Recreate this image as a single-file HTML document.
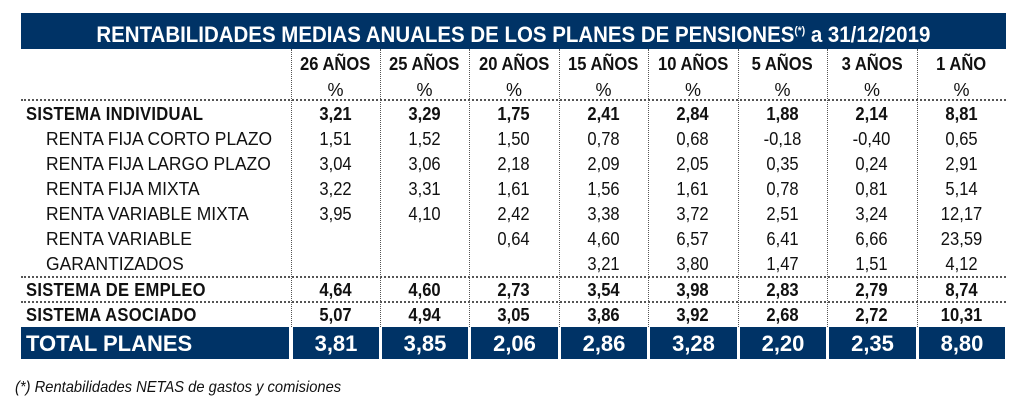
<!DOCTYPE html>
<html><head><meta charset="utf-8"><style>
body{margin:0;width:1022px;height:416px;background:#fff;position:relative;overflow:hidden;font-family:"Liberation Sans Narrow","Liberation Sans",sans-serif;color:#111}
.a{position:absolute;white-space:nowrap}
.t{position:absolute;left:21px;top:13px;width:985px;height:36px;background:#003366;color:#fff;font:bold 22px "Liberation Sans",sans-serif;text-align:center;line-height:37px}
.t span{display:inline-block;transform:scaleX(0.93)}
.c{position:absolute;width:89px;text-align:center;font-size:18px;line-height:20px}
.c span{display:inline-block;transform:scaleX(0.92)}
.l{position:absolute;font-size:18px;line-height:20px;transform-origin:left;transform:scaleX(0.97)}
.b{font-weight:bold}
.vl{position:absolute;top:49px;height:278px;border-left:1px dotted #555}
.hl{position:absolute;left:21px;width:985px;border-top:2px dotted #555}
.tot{position:absolute;top:327px;height:32px;background:#003366;color:#fff;font-weight:bold;font-size:22px;line-height:33px;text-align:center}
</style></head><body>
<div class="t"><span>RENTABILIDADES MEDIAS ANUALES DE LOS PLANES DE PENSIONES<sup style="font-size:11px;vertical-align:8px">(*)</sup> a 31/12/2019</span></div>
<div class="vl" style="left:291px"></div><div class="vl" style="left:380px"></div><div class="vl" style="left:469px"></div><div class="vl" style="left:559px"></div><div class="vl" style="left:648px"></div><div class="vl" style="left:738px"></div><div class="vl" style="left:827px"></div><div class="vl" style="left:917px"></div>
<div class="hl" style="top:99px"></div><div class="hl" style="top:276px"></div><div class="hl" style="top:301px"></div>
<div id="g"></div>
<div class="tot" style="left:21px;width:268px;text-align:left;padding-left:5px;box-sizing:border-box">TOTAL PLANES</div>
<div class="a" style="left:15px;top:379px;font-style:italic;font-size:16px;transform-origin:left;transform:scaleX(0.92)">(*) Rentabilidades NETAS de gastos y comisiones</div>
<script>
var xs=[291,380,469,559,648,738,827,917,1006];
var h=["26 AÑOS","25 AÑOS","20 AÑOS","15 AÑOS","10 AÑOS","5 AÑOS","3 AÑOS","1 AÑO"];
var rows=[
["SISTEMA INDIVIDUAL",1,114,["3,21","3,29","1,75","2,41","2,84","1,88","2,14","8,81"]],
["RENTA FIJA CORTO PLAZO",0,139,["1,51","1,52","1,50","0,78","0,68","-0,18","-0,40","0,65"]],
["RENTA FIJA LARGO PLAZO",0,164,["3,04","3,06","2,18","2,09","2,05","0,35","0,24","2,91"]],
["RENTA FIJA MIXTA",0,189,["3,22","3,31","1,61","1,56","1,61","0,78","0,81","5,14"]],
["RENTA VARIABLE MIXTA",0,214,["3,95","4,10","2,42","3,38","3,72","2,51","3,24","12,17"]],
["RENTA VARIABLE",0,239,["","","0,64","4,60","6,57","6,41","6,66","23,59"]],
["GARANTIZADOS",0,264,["","","","3,21","3,80","1,47","1,51","4,12"]],
["SISTEMA DE EMPLEO",1,290,["4,64","4,60","2,73","3,54","3,98","2,83","2,79","8,74"]],
["SISTEMA ASOCIADO",1,315,["5,07","4,94","3,05","3,86","3,92","2,68","2,72","10,31"]]];
var tot=["3,81","3,85","2,06","2,86","3,28","2,20","2,35","8,80"];
var s="";
for(var i=0;i<8;i++){s+='<div class="c b" style="left:'+xs[i]+'px;width:'+(xs[i+1]-xs[i])+'px;top:54px"><span>'+h[i]+'</span></div><div class="c" style="left:'+xs[i]+'px;width:'+(xs[i+1]-xs[i])+'px;top:80px">%</div>';
s+='<div class="tot" style="left:'+(xs[i]+2)+'px;width:'+(xs[i+1]-xs[i]-3)+'px">'+tot[i]+'</div>';}
rows.forEach(function(r){s+='<div class="l'+(r[1]?' b':'')+'" style="left:'+(r[1]?26:46)+'px;top:'+(r[2]-10)+'px;'+(r[1]?'letter-spacing:0.3px;transform:scaleX(0.92)':'')+'">'+r[0]+'</div>';
for(var i=0;i<8;i++)s+='<div class="c'+(r[1]?' b':'')+'" style="left:'+xs[i]+'px;width:'+(xs[i+1]-xs[i])+'px;top:'+(r[2]-10)+'px"><span>'+r[3][i]+'</span></div>';});
document.getElementById("g").innerHTML=s;
</script>
</body></html>
